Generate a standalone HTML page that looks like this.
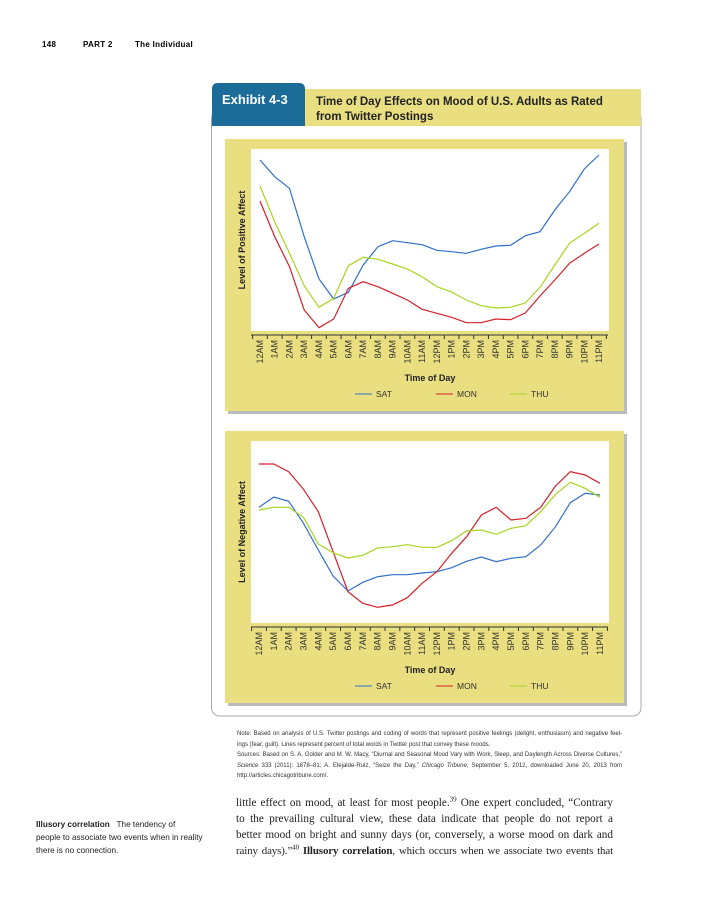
<!DOCTYPE html>
<html><head><meta charset="utf-8"><style>
body{margin:0;background:#fff;width:703px;height:900px;position:relative;font-family:"Liberation Sans",sans-serif;overflow:hidden}
.a{position:absolute}
.j{text-align:justify;text-align-last:justify;height:1lh;overflow:visible}
</style></head><body>
<div class="a" style="left:42px;top:40px;font-size:8px;font-weight:bold;letter-spacing:0.3px">148</div>
<div class="a" style="left:83px;top:40px;font-size:8px;font-weight:bold;letter-spacing:0.3px">PART 2</div>
<div class="a" style="left:135px;top:40px;font-size:8px;font-weight:bold;letter-spacing:0.3px">The Individual</div>
<svg class="a" style="left:0;top:0" width="703" height="900" id="s">
<rect x="211.5" y="110" width="429.5" height="606" rx="8" fill="#fff" stroke="#aaa" stroke-width="1"/>
<rect x="305" y="89" width="336" height="37" fill="#e9df80"/>
<path d="M212 126 V89 Q212 83 218 83 H299 Q305 83 305 89 V126 Z" fill="#1c6c9a"/>
<text x="222" y="104" font-size="13" font-weight="bold" fill="#fff" font-family="Liberation Sans">Exhibit 4-3</text>
<text x="316" y="105" font-size="11.5" font-weight="bold" fill="#222">Time of Day Effects on Mood of U.S. Adults as Rated</text>
<text x="316" y="120" font-size="11.5" font-weight="bold" fill="#222">from Twitter Postings</text>
<g id="c1"></g><g id="c2"></g>
</svg>
<div class="a" style="left:237px;top:729px;width:385px;font-size:6px;line-height:10.5px;color:#333">
<div class="j">Note: Based on analysis of U.S. Twitter postings and coding of words that represent positive feelings (delight, enthusiasm) and negative feel-</div>
<div>ings (fear, guilt). Lines represent percent of total words in Twitter post that convey these moods.</div>
<div class="j">Sources: Based on S. A. Golder and M. W. Macy, “Diurnal and Seasonal Mood Vary with Work, Sleep, and Daylength Across Diverse Cultures,”</div>
<div class="j"><i>Science</i> 333 (2011): 1878–81; A. Elejalde-Ruiz, “Seize the Day,” <i>Chicago Tribune</i>, September 5, 2012, downloaded June 20, 2013 from</div>
<div>http://articles.chicagotribune.com/.</div></div>
<div class="a" style="left:236px;top:795px;width:377px;font-family:'Liberation Serif',serif;font-size:11.2px;line-height:16px;color:#222">
<div class="j">little effect on mood, at least for most people.<sup style="font-size:7px;line-height:0">39</sup> One expert concluded, “Contrary</div>
<div class="j">to the prevailing cultural view, these data indicate that people do not report a</div>
<div class="j">better mood on bright and sunny days (or, conversely, a worse mood on dark and</div>
<div class="j" style="white-space:nowrap;font-size:10.9px;letter-spacing:-0.1px">rainy days).”<sup style="font-size:7px;line-height:0">40</sup> <b>Illusory correlation</b>, which occurs when we associate two events that</div></div>
<div class="a" style="left:36px;top:818px;font-size:8.2px;line-height:13px;color:#222"><div><b>Illusory correlation</b>&nbsp;&nbsp;&nbsp;The tendency of</div><div>people to associate two events when in reality</div><div>there is no connection.</div></div>
<script>
const ns="http://www.w3.org/2000/svg";
const L=['12AM','1AM','2AM','3AM','4AM','5AM','6AM','7AM','8AM','9AM','10AM','11AM','12PM','1PM','2PM','3PM','4PM','5PM','6PM','7PM','8PM','9PM','10PM','11PM'];
function el(p,t,a,txt){const e=document.createElementNS(ns,t);for(const k in a)e.setAttribute(k,a[k]);if(txt)e.textContent=txt;p.appendChild(e);return e;}
function chart(id,top,x0,x1,ylab,data,off){
 const g=document.getElementById(id);
 el(g,'rect',{x:228,y:top+3,width:399,height:272,fill:'#bbb'});
 el(g,'rect',{x:225,y:top,width:399,height:272,fill:'#e9df80'});
 el(g,'rect',{x:251,y:top+10,width:358,height:182,fill:'#fff'});
 const ay=top+196;
 el(g,'line',{x1:251,y1:ay,x2:608,y2:ay,stroke:'#333','stroke-width':1});
 const st=(x1-x0)/23;
 for(let i=0;i<=24;i++){const x=x0-st/2+i*st;el(g,'line',{x1:x,y1:ay,x2:x,y2:ay+4,stroke:'#333','stroke-width':1});}
 L.forEach((l,i)=>{const x=x0+i*st+3;el(g,'text',{x:x,y:ay+5,'font-size':9,fill:'#333','text-anchor':'end',transform:`rotate(-90 ${x} ${ay+5})`},l);});
 el(g,'text',{x:430,y:ay+46,'font-size':9,'font-weight':'bold','text-anchor':'middle',fill:'#222'},'Time of Day');
 el(g,'text',{x:245,y:top+101,'font-size':9,'font-weight':'bold','text-anchor':'middle',fill:'#222',transform:`rotate(-90 245 ${top+101})`},ylab);
 const ly=ay+62;
 [['SAT','#2f6fcf',355],['MON','#d4202a',436],['THU','#a6d51e',510]].forEach(([n,c,x])=>{el(g,'line',{x1:x,y1:ly-3,x2:x+17,y2:ly-3,stroke:c,'stroke-width':1});el(g,'text',{x:x+21,y:ly,'font-size':8.5,fill:'#333'},n);});
 const cols=['#2f6fcf','#d4202a','#a6d51e'];
 data.forEach((d,k)=>{el(g,'polyline',{points:d.map((v,i)=>(x0+i*st).toFixed(1)+','+(off+v/3).toFixed(1)).join(' '),fill:'none',stroke:cols[k],'stroke-width':1.2});});
}
chart('c1',139,260,599,'Level of Positive Affect',[
[240,290,325,470,597,657,637,555,500,482,488,494,511,515,520,508,498,496,467,455,390,335,267,225],
[363,470,560,690,743,717,625,605,620,640,660,688,700,712,728,728,717,719,699,648,600,550,520,492],
[318,425,520,617,682,655,557,532,538,552,567,590,620,636,660,677,684,682,669,622,555,490,460,430]],80);
chart('c2',431,259,600,'Level of Negative Affect',[
[262,231,244,310,390,468,513,487,470,464,464,459,455,443,424,411,425,415,410,375,320,248,220,225],
[132,132,155,208,275,395,515,550,562,555,533,490,455,400,350,285,262,300,295,262,198,155,165,190],
[270,262,262,292,372,398,414,406,384,380,374,382,382,362,333,330,343,325,317,275,223,187,205,232]],420);
</script>
</body></html>
